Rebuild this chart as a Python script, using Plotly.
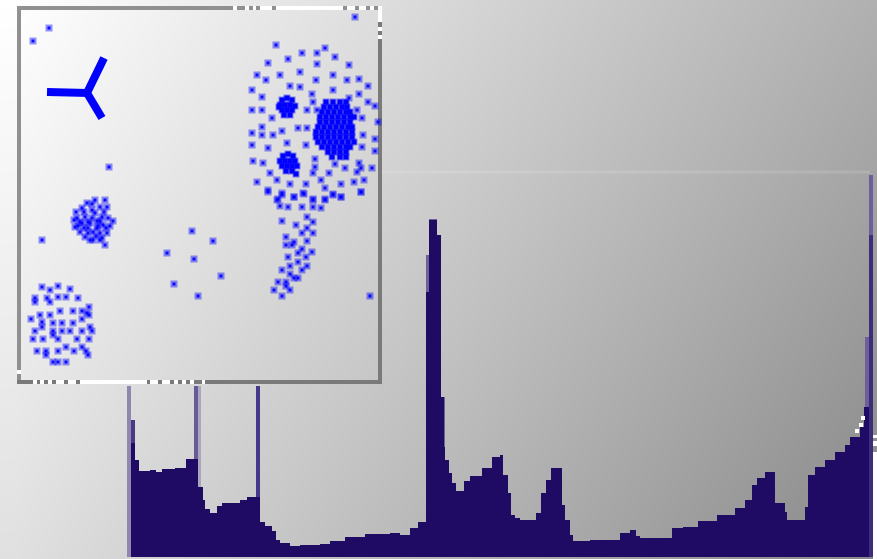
import plotly.graph_objects as go

W, H = 877, 559
BASE = 557
navy = "#1f0a64"

# histogram bins: left edge, right edge, top of the bar in picture rows
bin_left = [131,135,139,150,156,162,175,186,198,203,205,210,217,222,240,247,260,265,272,276,280,290,300,320,330,345,365,390,400,410,418,426,429,437,441,444,445,449,452,456,464,470,482,492,500,503,508,511,515,520,536,541,546,551,562,565,570,573,590,620,630,636,640,672,683,698,717,735,745,752,757,765,775,785,787,805,808,815,825,835,845,850,860,864,869]
bin_right = [135,139,150,156,162,175,186,198,203,205,210,217,222,240,247,260,265,272,276,280,290,300,320,330,345,365,390,400,410,418,426,429,437,441,444,445,449,452,456,464,470,482,492,500,503,508,511,515,520,536,541,546,551,562,565,570,573,590,620,630,636,640,672,683,698,717,735,745,752,757,765,775,785,787,805,808,815,825,835,845,850,860,864,869,873]
bin_top = [443,460,471,470,472,469,468,459,487,500,509,513,506,503,500,497,522,526,531,540,543,546,545,544,541,537,534,533,535,528,522,292,220,235,397,447,460,473,483,491,481,476,468,457,455,475,493,515,518,520,513,493,480,468,505,520,535,541,540,533,530,536,538,528,527,521,515,508,500,485,478,472,503,512,520,507,475,467,460,452,445,437,427,407,235]

# paler anti-aliased columns behind the histogram
halo_left = [127,131,194,198,256,426,429,437,441,865,869]
halo_right = [131,135,198,201,260,429,437,441,445,869,873]
halo_top = [386,420,386,386,386,255,219,235,397,337,175]
halo_color = ["#8f87ae","#4a3a85","#685a94","#aba6c0","#47378a","#6d6099","#6d6099","#6d6099","#6d6099","#6d6099","#6d5f98"]

# scatter inset: isolated points and clusters
lone_x = [49,33,109,42,192,213,167,194,221,174,198,370,355]
lone_y = [28,41,167,240,231,241,253,259,276,284,296,296,17]

blob_a_x = [87,95,105,82,92,100,107,77,85,92,102,108,113,75,82,90,97,103,80,88,97,107,85,100,93,100,105,80,95,88,93,100,76,74,78,84,92,104,110,96,84,90,98,106,102,88]
blob_a_y = [203,200,200,208,210,207,207,218,217,218,217,218,221,227,223,223,221,225,232,233,228,233,237,233,240,240,245,222,213,228,232,221,212,220,226,212,204,212,226,236,228,240,226,228,238,222]

blob_b_x = [42,50,58,70,35,47,58,66,78,35,40,50,60,73,82,89,89,31,42,53,62,73,82,35,53,62,70,82,92,33,43,58,77,89,37,46,58,66,82,74,86,58,66,53,90,46,88,87,42,50,53]
blob_b_y = [287,290,286,289,298,298,297,297,298,302,315,315,311,311,311,307,315,319,322,323,323,323,319,331,331,331,331,331,331,339,339,339,339,339,351,351,351,347,347,351,351,362,362,335,327,355,355,313,327,302,362]

ring_x = [276,325,302,317,335,288,317,349,268,257,280,300,333,266,316,347,359,290,368,252,300,312,333,359,262,349,368,252,262,307,313,317,375,272,357,362,378,262,282,298,307,252,262,273,363,375,287,252,306,268,362,375,253,263,315,315,335,345,359,361,372,357,270,313,329,257,277,290,306,321,341,354,364,268,325,361,282,294,304,313,325,333,341,278]
ring_y = [45,48,53,53,57,59,64,65,63,75,75,72,75,80,80,80,79,86,86,90,87,94,90,94,97,98,102,110,110,110,102,110,106,118,110,118,122,127,131,128,128,133,135,135,135,139,143,145,145,148,147,151,161,163,159,167,164,168,163,168,168,172,173,173,173,182,180,184,184,180,184,182,180,190,188,192,193,197,194,199,199,194,197,199]

tail_x = [268,282,294,303,313,325,333,341,361,277,280,288,302,313,321,307,282,313,296,307,313,302,286,294,307,286,292,302,312,298,306,288,298,290,307,282,302,290,298,278,286,274,290,282,294,286]
tail_y = [192,195,197,193,200,200,195,197,192,200,206,207,207,207,208,217,221,222,225,228,233,233,237,242,241,245,245,249,252,253,257,257,262,266,266,270,270,274,278,282,286,290,290,296,278,282]

clump_a_x = [282,287,292,280,285,290,295,282,287,292,284,290,279]
clump_a_y = [100,98,100,105,105,105,106,110,110,110,115,115,107]
clump_b_x = [283,288,293,280,285,290,295,282,287,292,297,286,292,296]
clump_b_y = [156,154,156,161,161,161,161,166,166,166,166,171,171,174]
clump_c_x = [326,333,340,346,324,330,336,342,347,322,328,334,340,346,350,320,326,332,338,344,350,354,320,326,332,338,344,350,318,324,330,336,342,348,352,316,322,328,334,340,346,352,316,322,328,334,340,346,352,318,324,330,336,342,348,354,322,328,334,340,346,350,328,334,340,346,332,340,346]
clump_c_y = [102,102,102,102,107,107,107,107,107,112,112,112,112,112,112,117,117,117,117,117,117,117,122,122,122,122,122,122,127,127,127,127,127,127,127,132,132,132,132,132,132,132,137,137,137,137,137,137,137,142,142,142,142,142,142,142,147,147,147,147,147,147,152,152,152,152,157,157,157]

y_shape_x = [47,87,104,None,87,102]
y_shape_y = [92,93,58,None,93,118]

bar_colors = [navy] * len(bin_left)
bar_colors[-1] = "#3d2c7a"

fig = go.Figure()
fig.add_trace(go.Heatmap(x=[13, 877], y=[-2, BASE], z=[[224, 136], [255, 176]], zmin=0, zmax=255,
                         colorscale=[[0, "#000000"], [1, "#ffffff"]],
                         zsmooth="best", showscale=False, hoverinfo="skip", xaxis="x", yaxis="y"))
fig.add_trace(go.Bar(x=halo_left, width=[r - l for l, r in zip(halo_left, halo_right)], offset=0,
                     y=[BASE - t for t in halo_top], marker=dict(color=halo_color, line_width=0), xaxis="x", yaxis="y"))
fig.add_trace(go.Bar(x=bin_left, width=[r - l for l, r in zip(bin_left, bin_right)], offset=0,
                     y=[BASE - t for t in bin_top], marker=dict(color=bar_colors, line_width=0), xaxis="x", yaxis="y"))

def pts(x, y, op=0.9, size=3, halo=7):
    fig.add_trace(go.Scatter(x=x, y=y, mode="markers", xaxis="x2", yaxis="y2",
                             marker=dict(symbol="square", size=halo, color="#0000ff", opacity=0.42, line_width=0)))
    fig.add_trace(go.Scatter(x=x, y=y, mode="markers", xaxis="x2", yaxis="y2",
                             marker=dict(symbol="square", size=size, color="#0000ff", opacity=op, line_width=0)))

# faint rule and frame
fig.add_trace(go.Scatter(x=[381, 870], y=[172, 172], mode="lines", line=dict(color="rgba(255,255,255,0.12)", width=3), xaxis="x2", yaxis="y2"))
grey_x = [19,19,None,19,19,None,17,233,None,237,245,None,249,253,None,256,260,None,272,276,None,343,347,None,355,359,None,366,370,None,374,378]
grey_y = [6,370,None,374,384,None,8,8,None,8,8,None,8,8,None,8,8,None,8,8,None,8,8,None,8,8,None,8,8,None,8,8]
fig.add_trace(go.Scatter(x=grey_x, y=grey_y, mode="lines", line=dict(color="#909090", width=4), xaxis="x2", yaxis="y2"))
dark_x = [380,380,None,380,380,None,380,380,None,17,33,None,37,40,None,44,48,None,52,56,None,64,68,None,76,80,None,147,150,None,158,162,None,170,174,None,178,182,None,186,190,None,194,202,None,205,382]
dark_y = [22,27,None,31,35,None,39,384,None,382,382,None,382,382,None,382,382,None,382,382,None,382,382,None,382,382,None,382,382,None,382,382,None,382,382,None,382,382,None,382,382,None,382,382,None,382,382]
fig.add_trace(go.Scatter(x=dark_x, y=dark_y, mode="lines", line=dict(color="#7a7a7a", width=4), xaxis="x2", yaxis="y2"))
white_x = [233,237,None,245,249,None,253,256,None,260,272,None,276,343,None,347,355,None,359,366,None,370,374,None,378,382,None,380,380,None,380,380,None,380,380,None,19,19,None,33,37,None,40,44,None,48,52,None,56,64,None,68,76,None,80,147,None,150,158,None,162,170,None,174,178,None,182,186,None,190,194,None,202,205]
white_y = [8,8,None,8,8,None,8,8,None,8,8,None,8,8,None,8,8,None,8,8,None,8,8,None,8,8,None,6,22,None,27,31,None,35,39,None,370,374,None,382,382,None,382,382,None,382,382,None,382,382,None,382,382,None,382,382,None,382,382,None,382,382,None,382,382,None,382,382,None,382,382,None,382,382]
fig.add_trace(go.Scatter(x=white_x, y=white_y, mode="lines", line=dict(color="#ffffff", width=4), xaxis="x2", yaxis="y2"))
speck_x = [857, 861, 863]
speck_y = [431, 425, 418]
fig.add_trace(go.Scatter(x=speck_x, y=speck_y, mode="markers", marker=dict(symbol="square", size=4, color="#ffffff", line_width=0), xaxis="x2", yaxis="y2"))
fig.add_trace(go.Scatter(x=[875,875,None,875,875,None,875,875], y=[435,438,None,441,446,None,452,559], mode="lines", line=dict(color="#ffffff", width=4), xaxis="x2", yaxis="y2"))

fig.add_trace(go.Scatter(x=y_shape_x, y=y_shape_y, mode="lines", xaxis="x2", yaxis="y2", line=dict(color="#0000ff", width=8)))
pts(lone_x, lone_y)
pts(blob_a_x, blob_a_y)
pts(blob_b_x, blob_b_y)
pts(ring_x, ring_y)
pts(tail_x, tail_y)
pts(clump_a_x, clump_a_y, op=1, size=5)
pts(clump_b_x, clump_b_y, op=1, size=5)
pts(clump_c_x, clump_c_y, op=1, size=5)

hidden = dict(showgrid=False, zeroline=False, showticklabels=False, ticks="", showline=False, fixedrange=True)
fig.update_layout(
    width=W, height=H, autosize=False, showlegend=False, barmode="overlay", bargap=0,
    margin=dict(l=0, r=0, t=0, b=0), paper_bgcolor="#ffffff", plot_bgcolor="rgba(0,0,0,0)",
    xaxis=dict(range=[0, W], domain=[0, 1], **hidden),
    yaxis=dict(range=[-2, BASE], domain=[0, 1], **hidden),
    xaxis2=dict(range=[0, W], domain=[0, 1], anchor="y2", **hidden),
    yaxis2=dict(range=[H, 0], domain=[0, 1], anchor="x2", **hidden),
)
fig.write_html("out.html", config=dict(displayModeBar=False),
               post_script="document.body.style.margin='0';document.documentElement.style.overflow='hidden';")
